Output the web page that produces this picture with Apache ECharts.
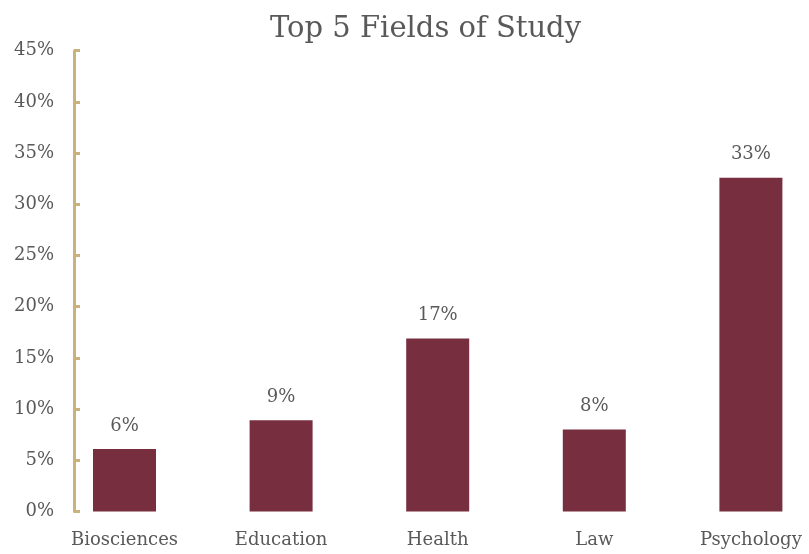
<!DOCTYPE html>
<html>
<head>
<meta charset="utf-8">
<script src="https://cdn.jsdelivr.net/npm/echarts@6/dist/echarts.min.js"></script>
<style>html,body{margin:0;padding:0;background:#fff}#c{width:809px;height:554px}</style>
</head>
<body>
<div id="c"></div>
<script>
const categories = ["Biosciences", "Education", "Health", "Law", "Psychology"];
const shares = [6.1, 8.9, 16.9, 8.0, 32.6];
const yTicks = [0, 5, 10, 15, 20, 25, 30, 35, 40, 45];

const chart = echarts.init(document.getElementById('c'));
const font = '"DejaVu Serif", "Liberation Serif", serif';
chart.setOption({
  animation: false,
  backgroundColor: '#ffffff',
  title: {
    text: 'Top 5 Fields of Study',
    left: 265, top: 10,
    textStyle: { fontFamily: font, fontSize: 29, fontWeight: 'normal', color: '#595959' }
  },
  grid: { left: 124.5, top: 50.7, width: 626.4, height: 460.8, containLabel: false },
  xAxis: {
    type: 'category',
    data: categories,
    boundaryGap: false,
    axisLine: { show: false },
    axisTick: { show: false },
    axisLabel: { margin: 20, fontFamily: font, fontSize: 18, color: '#595959', interval: 0 }
  },
  yAxis: {
    type: 'value',
    min: yTicks[0], max: yTicks[yTicks.length - 1], interval: 5,
    offset: 50.5,
    axisLine: { show: true, lineStyle: { color: '#C9B27C', width: 3 } },
    axisTick: { show: true, inside: true, length: 6, lineStyle: { color: '#C9B27C', width: 3 } },
    splitLine: { show: false },
    axisLabel: { margin: 20, fontFamily: font, fontSize: 18, color: '#595959', formatter: v => v + '%' }
  },
  series: [{
    type: 'bar',
    data: shares,
    barWidth: 63,
    clip: false,
    itemStyle: { color: '#772E3F' },
    label: {
      show: true, position: 'top', distance: 14,
      fontFamily: font, fontSize: 18, color: '#595959',
      formatter: p => Math.round(p.value) + '%'
    }
  }]
});
</script>
</body>
</html>
